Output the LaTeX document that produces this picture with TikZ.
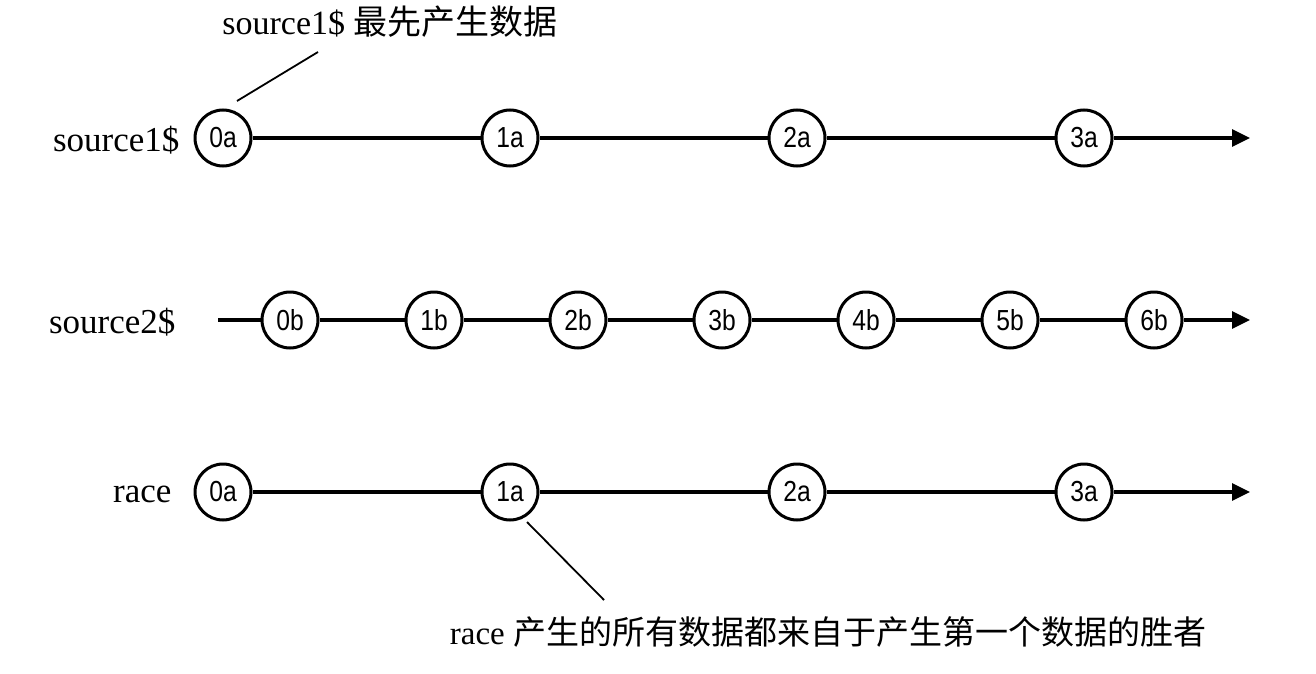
\documentclass[tikz,border=0pt]{standalone}
\usepackage{fontspec}
\setmainfont{Liberation Serif}
\newfontfamily\cjk{Noto Sans CJK SC}
\newfontfamily\circfont[FakeStretch=0.85]{Liberation Sans}
\usetikzlibrary{positioning,arrows.meta}

\begin{document}
\begin{tikzpicture}[x=1pt,y=-1pt,line width=3.2pt,node distance = {287pt},
obs/.style = {draw, circle, line width=3pt, fill=white, inner sep=0pt, minimum size=56pt, font=\circfont\fontsize{29}{29}\selectfont},
lbl/.style = {font=\fontsize{35}{35}\selectfont, inner sep=0pt},
note/.style = {font=\fontsize{33}{33}\selectfont, inner sep=0pt},
tip/.style = {-{Triangle[length=18pt,width=17pt]}},
pointer/.style = {line width=1.8pt}]

    \useasboundingbox (0,0) rectangle (1316,674);

    % source1$
    \node[lbl, anchor=east] (l1) at (181,140) {source1\$};
    \node[obs] (a0) at (223,138) {0a};
    \node[obs, right of=a0] (a1) {1a};
    \node[obs, right of=a1] (a2) {2a};
    \node[obs, right of=a2] (a3) {3a};
    \coordinate (e1) at (1250,138);

    \draw (a0) -- (a1);
    \draw (a1) -- (a2);
    \draw (a2) -- (a3);
    \draw [tip] (a3) -- (e1);

    % source2$
    \node[lbl, anchor=east] (l2) at (177,322) {source2\$};
    \coordinate (s2) at (218,320);
    \begin{scope}[node distance = {144pt}]
    \node[obs] (b0) at (290,320) {0b};
    \node[obs, right of=b0] (b1) {1b};
    \node[obs, right of=b1] (b2) {2b};
    \node[obs, right of=b2] (b3) {3b};
    \node[obs, right of=b3] (b4) {4b};
    \node[obs, right of=b4] (b5) {5b};
    \node[obs, right of=b5] (b6) {6b};
    \end{scope}
    \coordinate (e2) at (1250,320);

    \draw (s2) -- (b0);
    \draw (b0) -- (b1);
    \draw (b1) -- (b2);
    \draw (b2) -- (b3);
    \draw (b3) -- (b4);
    \draw (b4) -- (b5);
    \draw (b5) -- (b6);
    \draw [tip] (b6) -- (e2);

    % race
    \node[lbl, anchor=east] (l3) at (173,494) {race};
    \node[obs] (r0) at (223,492) {0a};
    \node[obs, right of=r0] (r1) {1a};
    \node[obs, right of=r1] (r2) {2a};
    \node[obs, right of=r2] (r3) {3a};
    \coordinate (e3) at (1250,492);

    \draw (r0) -- (r1);
    \draw (r1) -- (r2);
    \draw (r2) -- (r3);
    \draw [tip] (r3) -- (e3);

    % notes
    \node[note, font=\fontsize{34}{34}\selectfont] (n1) at (390,22) {source1\$ {\cjk 最先产生数据}};
    \coordinate (p1) at (318,52);
    \coordinate (q1) at (237,101);
    \draw [pointer] (p1) -- (q1);

    \node[note] (n2) at (828,632) {race {\cjk 产生的所有数据都来自于产生第一个数据的胜者}};
    \coordinate (p2) at (527,522);
    \coordinate (q2) at (604,600);
    \draw [pointer] (p2) -- (q2);

\end{tikzpicture}
\end{document}
